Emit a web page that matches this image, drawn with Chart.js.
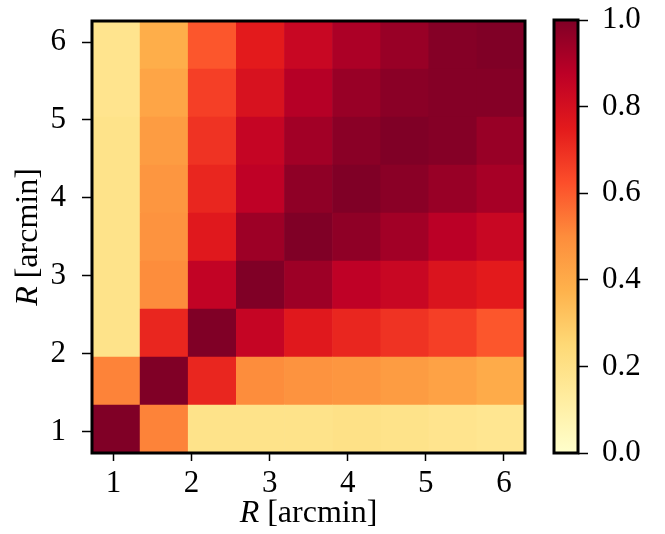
<!DOCTYPE html>
<html>
<head>
<meta charset="utf-8">
<script src="https://cdn.jsdelivr.net/npm/chart.js@4.4.0/dist/chart.umd.min.js"></script>
<style>
  body { margin: 0; background: #fff; }
  #wrap { position: relative; width: 665px; height: 534px; }
  #main { position: absolute; left: 0; top: 0; }
  #cbar { position: absolute; left: 540px; top: 0; }
</style>
</head>
<body>
<div id="wrap">
  <canvas id="main" width="540" height="534"></canvas>
  <canvas id="cbar" width="125" height="534"></canvas>
</div>
<script>
// radial bins in arcmin (bin edges), same on both axes
const binEdges = [0.724, 1.340, 1.956, 2.573, 3.189, 3.805, 4.421, 5.037, 5.654, 6.270];
const binLabels = ['b1', 'b2', 'b3', 'b4', 'b5', 'b6', 'b7', 'b8', 'b9'];
const axisTicks = [1, 2, 3, 4, 5, 6];
const cbarTicks = [0.0, 0.2, 0.4, 0.6, 0.8, 1.0];

// correlation matrix, rows from bottom (first bin) to top
const corrRow1 = [1.00, 0.52, 0.19, 0.19, 0.19, 0.20, 0.19, 0.18, 0.17];
const corrRow2 = [0.52, 1.00, 0.72, 0.50, 0.48, 0.47, 0.45, 0.43, 0.40];
const corrRow3 = [0.19, 0.72, 1.00, 0.85, 0.76, 0.72, 0.69, 0.66, 0.61];
const corrRow4 = [0.19, 0.50, 0.86, 1.00, 0.94, 0.87, 0.84, 0.78, 0.75];
const corrRow5 = [0.19, 0.48, 0.76, 0.94, 1.00, 0.97, 0.93, 0.88, 0.84];
const corrRow6 = [0.19, 0.47, 0.72, 0.87, 0.97, 1.00, 0.98, 0.95, 0.92];
const corrRow7 = [0.19, 0.45, 0.69, 0.85, 0.93, 0.98, 1.00, 0.99, 0.95];
const corrRow8 = [0.18, 0.42, 0.66, 0.79, 0.89, 0.95, 0.98, 0.99, 0.99];
const corrRow9 = [0.18, 0.39, 0.61, 0.75, 0.84, 0.91, 0.95, 0.99, 1.00];
const corrRows = [corrRow1, corrRow2, corrRow3, corrRow4, corrRow5, corrRow6, corrRow7, corrRow8, corrRow9];

// matplotlib YlOrRd
const ylorrd = ['#ffffcc', '#ffeda0', '#fed976', '#feb24c', '#fd8d3c', '#fc4e2a', '#e31a1c', '#bd0026', '#800026'];

const hexToRgb = (h) => [1, 3, 5].map(i => parseInt(h.substr(i, 2), 16));

const cmap = (v) => {
    v = Math.min(1, Math.max(0, v));
    const p = v * (ylorrd.length - 1);
    const i = Math.min(Math.floor(p), ylorrd.length - 2);
    const t = p - i;
    const a = hexToRgb(ylorrd[i]), b = hexToRgb(ylorrd[i + 1]);
    const c = a.map((x, k) => Math.round(x + (b[k] - x) * t));
    return 'rgb(' + c.join(',') + ')';
};

const FONT = '"Liberation Serif", "DejaVu Serif", serif';
Chart.defaults.font.family = FONT;
Chart.defaults.color = '#000';

const frame = {
    id: 'frame',
    afterDatasetsDraw(chart) {
        const {ctx, chartArea: a} = chart;
        ctx.save();
        ctx.lineWidth = 3;
        ctx.strokeStyle = '#000';
        ctx.strokeRect(a.left, a.top, a.right - a.left, a.bottom - a.top);
        ctx.restore();
    }
};

// axis titles with an italic R like the LaTeX original
const drawTitle = (ctx, cx, cy, rotate) => {
    const it = 'italic 32px ' + FONT, rm = '32px ' + FONT;
    ctx.save();
    ctx.translate(cx, cy);
    if (rotate) ctx.rotate(-Math.PI / 2);
    ctx.fillStyle = '#000';
    ctx.textBaseline = 'alphabetic';
    ctx.font = it;
    const w1 = ctx.measureText('R').width + 8;
    ctx.font = rm;
    const w2 = ctx.measureText('[arcmin]').width;
    const x0 = -(w1 + w2) / 2;
    ctx.font = it;
    ctx.fillText('R', x0, 0);
    ctx.font = rm;
    ctx.fillText('[arcmin]', x0 + w1, 0);
    ctx.restore();
};

const titles = {
    id: 'titles',
    afterDraw(chart) {
        const a = chart.chartArea;
        drawTitle(chart.ctx, (a.left + a.right) / 2, 522, false);
        drawTitle(chart.ctx, 37, (a.top + a.bottom) / 2, true);
    }
};

const noPad = (s) => {
    s.paddingTop = 0; s.paddingBottom = 0; s.paddingLeft = 0; s.paddingRight = 0;
};

const tickOpts = {
    font: {size: 31},
    color: '#000'
};

const datasets = corrRows.map((row, j) => ({
    data: row.map(() => [binEdges[j], binEdges[j + 1]]),
    backgroundColor: row.map(cmap),
    borderWidth: 0,
    grouped: false,
    barPercentage: 1,
    categoryPercentage: 1
}));

new Chart(document.getElementById('main'), {
    type: 'bar',
    data: {labels: binLabels, datasets: datasets},
    options: {
        responsive: false,
        animation: false,
        layout: {padding: {top: 21, right: 15, left: 0, bottom: 0}},
        plugins: {legend: {display: false}, tooltip: {enabled: false}},
        scales: {
            x: {type: 'category', display: false, offset: true},
            xt: {
                type: 'linear', position: 'bottom', offset: false,
                min: binEdges[0], max: binEdges[binEdges.length - 1],
                afterBuildTicks: (s) => { s.ticks = axisTicks.map(v => ({value: v})); },
                afterFit: (s) => { s.height = 81; noPad(s); },
                ticks: Object.assign({padding: 4}, tickOpts),
                grid: {offset: false, drawOnChartArea: false, tickLength: 8, tickColor: '#000', tickWidth: 1.5},
                border: {display: false}
            },
            y: {
                type: 'linear',
                min: binEdges[0], max: binEdges[binEdges.length - 1],
                afterBuildTicks: (s) => { s.ticks = axisTicks.map(v => ({value: v})); },
                afterFit: (s) => { s.width = 92; noPad(s); },
                ticks: Object.assign({padding: 16}, tickOpts),
                grid: {drawOnChartArea: false, tickLength: 10, tickColor: '#000', tickWidth: 1.5},
                border: {display: false}
            }
        }
    },
    plugins: [frame, titles]
});

// colour bar
const cbarGradient = (ctx) => {
    const a = ctx.chart.chartArea;
    if (!a) return ylorrd[4];
    const g = ctx.chart.ctx.createLinearGradient(0, a.bottom, 0, a.top);
    ylorrd.forEach((c, i) => g.addColorStop(i / (ylorrd.length - 1), c));
    return g;
};

new Chart(document.getElementById('cbar'), {
    type: 'bar',
    data: {
        labels: ['cbar'],
        datasets: [{
            data: [[cbarTicks[0], cbarTicks[cbarTicks.length - 1]]],
            backgroundColor: cbarGradient,
            borderWidth: 0,
            barPercentage: 1,
            categoryPercentage: 1
        }]
    },
    options: {
        responsive: false,
        animation: false,
        layout: {padding: {top: 20, left: 14, right: 0, bottom: 81}},
        plugins: {legend: {display: false}, tooltip: {enabled: false}},
        scales: {
            x: {type: 'category', display: false},
            y: {
                type: 'linear', position: 'right',
                min: cbarTicks[0], max: cbarTicks[cbarTicks.length - 1],
                afterBuildTicks: (s) => { s.ticks = cbarTicks.map(v => ({value: v})); },
                afterFit: (s) => { s.width = 87; noPad(s); },
                ticks: Object.assign({padding: 14, callback: (v) => v.toFixed(1)}, tickOpts),
                grid: {drawOnChartArea: false, tickLength: 10, tickColor: '#000', tickWidth: 1.5},
                border: {display: false}
            }
        }
    },
    plugins: [frame]
});
</script>
</body>
</html>
